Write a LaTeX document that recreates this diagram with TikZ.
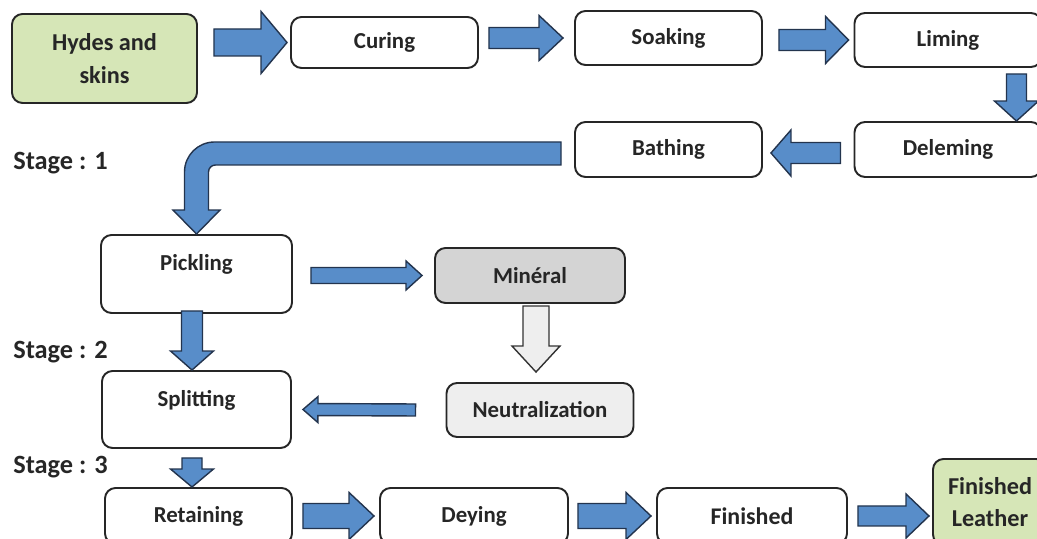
\documentclass[tikz,border=0pt]{standalone}
\usepackage{fontspec}
\setmainfont{Carlito}
\usetikzlibrary{calc, positioning}
\definecolor{flowblue}{RGB}{88,141,201}
\definecolor{flowedge}{RGB}{35,52,78}
\definecolor{leafgreen}{RGB}{214,230,183}
\definecolor{stonegray}{RGB}{212,212,212}
\definecolor{palegray}{RGB}{238,238,238}
\definecolor{inkgray}{RGB}{38,38,38}
\tikzset{
  stepbox/.style={draw=black!85, line width=1.1pt, rounded corners=6pt,
                  fill=white, text=inkgray, align=center,
                  font=\fontsize{13}{18}\selectfont\bfseries,
                  minimum width=3.74cm, minimum height=1.08cm, inner sep=2pt},
  endbox/.style={stepbox, fill=leafgreen,
                 font=\fontsize{13.8}{18.5}\selectfont\bfseries},
  chembox/.style={stepbox, fill=stonegray},
  washbox/.style={stepbox, fill=palegray},
  raised/.style={text depth=0.45cm},
  flowarrow/.style={draw=flowedge, line width=0.8pt, fill=flowblue},
  hollowarrow/.style={flowarrow, draw=black!80, fill=palegray},
  stagelabel/.style={anchor=west, inner sep=0pt, text=inkgray,
                     font=\fontsize{15}{18}\selectfont\bfseries},
}
% block arrow: [style]{tail}{tip}{half body}{half head}{head length}
\newcommand{\blockarr}[6][]{%
  \path (#2) coordinate (ba-s) (#3) coordinate (ba-e);
  \draw[flowarrow,#1] let \p1=($(ba-e)-(ba-s)$), \n1={atan2(\y1,\x1)},
      \n2={veclen(\x1,\y1)} in
    ($(ba-s)+(\n1+90:#4)$) -- ($(ba-s)+(\n1:{\n2-#6})+(\n1+90:#4)$)
    -- ($(ba-s)+(\n1:{\n2-#6})+(\n1+90:#5)$) -- (ba-e)
    -- ($(ba-s)+(\n1:{\n2-#6})+(\n1-90:#5)$)
    -- ($(ba-s)+(\n1:{\n2-#6})+(\n1-90:#4)$)
    -- ($(ba-s)+(\n1-90:#4)$) -- cycle;}

\begin{document}
\begin{tikzpicture}
  \useasboundingbox (0,0) rectangle (20.74,-10.78);

  % ---- Stage 1 row ----
  \node[endbox, minimum width=3.70cm, minimum height=1.78cm]
    (hydes) at (2.09,-1.17) {Hydes and\\skins};
  \node[stepbox, minimum height=1.02cm] (curing) at (7.69,-0.85) {Curing};
  \node[stepbox] (soaking) at (13.37,-0.76) {Soaking};
  \node[stepbox] (liming) at (18.96,-0.80) {Liming};
  \node[stepbox, minimum height=1.10cm] (deleming) at (18.96,-2.99) {Deleming};
  \node[stepbox, minimum height=1.10cm] (bathing) at (13.37,-2.99) {Bathing};

  \node[stagelabel] (stage1) at (0.26,-3.26) {Stage : 1};

  % ---- Stage 2 block ----
  \node[stepbox, raised, minimum width=3.82cm, minimum height=1.56cm]
    (pickling) at (3.93,-5.48) {Pickling};
  \node[chembox, minimum width=3.80cm, minimum height=1.10cm]
    (mineral) at (10.60,-5.51) {Minéral};
  \node[washbox] (neutral) at (10.80,-8.20) {Neutralization};
  \node[stepbox, raised, minimum width=3.78cm, minimum height=1.54cm]
    (splitting) at (3.93,-8.19) {Splitting};

  \node[stagelabel] (stage2) at (0.26,-7.04) {Stage : 2};
  \node[stagelabel] (stage3) at (0.26,-9.34) {Stage : 3};

  % ---- Stage 3 row ----
  \node[stepbox, minimum height=1.12cm] (retaining) at (3.97,-10.32) {Retaining};
  \node[stepbox, minimum width=3.76cm, minimum height=1.12cm]
    (deying) at (9.48,-10.32) {Deying};
  \node[stepbox, minimum width=3.80cm, minimum height=1.12cm,
        font=\fontsize{13.6}{18}\selectfont\bfseries]
    (finished) at (15.04,-10.32) {Finished};
  \node[endbox, minimum width=2.28cm, minimum height=1.72cm]
    (fleather) at (19.80,-10.04) {Finished\\Leather};

  % ---- arrows, top row ----
  \blockarr{$(hydes.east |- curing.west)+(0.32,0)$}{$(curing.west)+(-0.06,0)$}
    {0.27cm}{0.62cm}{0.52cm}
  \blockarr{$(curing.east |- soaking.west)+(0.20,0)$}{$(soaking.west)+(-0.22,0)$}
    {0.21cm}{0.45cm}{0.48cm}
  \blockarr{$(soaking.east |- liming.west)+(0.32,0)$}{$(liming.west)+(-0.10,0)$}
    {0.21cm}{0.47cm}{0.46cm}
  \blockarr{$(liming.south east)+(-0.52,-0.12)$}{$(deleming.north east)+(-0.52,0)$}
    {0.20cm}{0.44cm}{0.40cm}
  \blockarr{$(deleming.west)+(-0.26,-0.07)$}{$(bathing.east)+(0.16,-0.07)$}
    {0.21cm}{0.46cm}{0.40cm}

  % ---- bent arrow Bathing -> Pickling ----
  \coordinate (bendtail) at ($(bathing.west)+(-0.26,-0.08)$);
  \draw[flowarrow] let \p1=(bendtail), \p2=(pickling.north) in
    (\x1,\y1+0.23cm) -- (\x2+0.36cm,\y1+0.23cm)
    arc[start angle=90, end angle=180, radius=0.6cm]
    -- (\x2-0.24cm,\y2+0.48cm) -- (\x2-0.47cm,\y2+0.48cm) -- (\x2,\y2)
    -- (\x2+0.47cm,\y2+0.48cm) -- (\x2+0.24cm,\y2+0.48cm)
    -- (\x2+0.24cm,\y1-0.37cm)
    arc[start angle=180, end angle=90, radius=0.14cm]
    -- (\x1,\y1-0.23cm) -- cycle;

  % ---- arrows, middle block ----
  \blockarr{$(pickling.east |- mineral.west)+(0.36,0)$}{$(mineral.west)+(-0.24,0)$}
    {0.16cm}{0.29cm}{0.32cm}
  \blockarr[hollowarrow]{$(mineral.south)+(0.12,-0.04)$}{$(neutral.north)+(-0.08,0.20)$}
    {0.26cm}{0.48cm}{0.52cm}
  \blockarr{$(neutral.west)+(-0.60,0)$}{$(splitting.east)+(0.22,0)$}
    {0.12cm}{0.26cm}{0.30cm}
  \blockarr{$(pickling.south)+(-0.09,0.06)$}{$(splitting.north)+(-0.09,0)$}
    {0.21cm}{0.43cm}{0.38cm}
  \blockarr{$(splitting.south)+(-0.09,-0.18)$}{$(retaining.north)+(-0.13,0)$}
    {0.20cm}{0.43cm}{0.36cm}

  % ---- arrows, bottom row ----
  \blockarr{$(retaining.east)+(0.20,0)$}{$(deying.west)+(-0.10,0)$}
    {0.25cm}{0.47cm}{0.50cm}
  \blockarr{$(deying.east)+(0.18,0)$}{$(finished.west)+(-0.10,0)$}
    {0.25cm}{0.47cm}{0.50cm}
  \blockarr{$(finished.east)+(0.20,0)$}{$(fleather.west |- finished.east)+(-0.06,0)$}
    {0.20cm}{0.44cm}{0.46cm}

\end{tikzpicture}
\end{document}
